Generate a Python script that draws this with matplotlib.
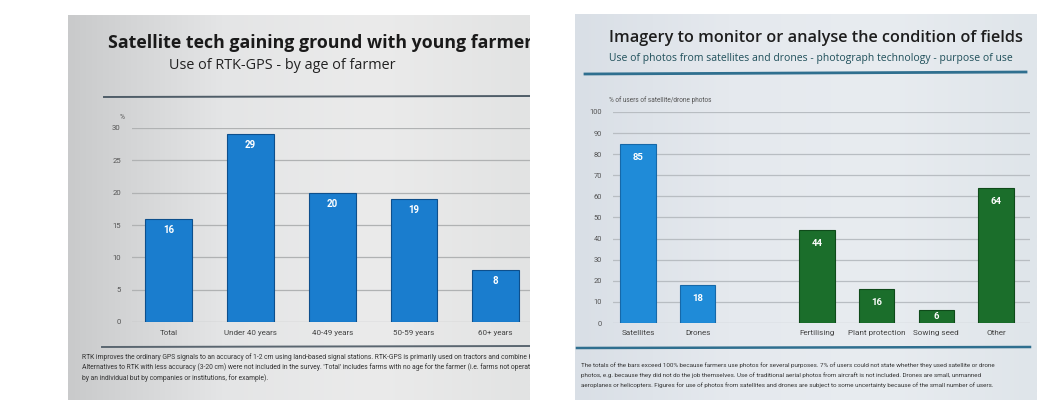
import numpy as np
import matplotlib
matplotlib.use("Agg")
import matplotlib.pyplot as plt
from matplotlib.colors import LinearSegmentedColormap

# ---------------- data ----------------
left_title = "Satellite tech gaining ground with young farmer"
left_subtitle = "Use of RTK-GPS - by age of farmer"
left_categories = ["Total", "Under 40 years", "40-49 years", "50-59 years", "60+ years"]
left_values = [16, 29, 20, 19, 8]
left_yticks = [0, 5, 10, 15, 20, 25, 30]
left_note = ["RTK improves the ordinary GPS signals to an accuracy of 1-2 cm using land-based signal stations. RTK-GPS is primarily used on tractors and combine harvesters.",
             "Alternatives to RTK with less accuracy (3-20 cm) were not included in the survey. 'Total' includes farms with no age for the farmer (i.e. farms not operated",
             "by an individual but by companies or institutions, for example)."]

right_title = "Imagery to monitor or analyse the condition of fields"
right_subtitle = "Use of photos from satellites and drones - photograph technology - purpose of use"
right_ylabel = "% of users of satellite/drone photos"
right_categories = ["Satellites", "Drones", "Fertilising", "Plant protection", "Sowing seed", "Other"]
right_positions = [0, 1, 3, 4, 5, 6]
right_values = [85, 18, 44, 16, 6, 64]
right_groups = ["tech", "tech", "use", "use", "use", "use"]
right_yticks = [0, 10, 20, 30, 40, 50, 60, 70, 80, 90, 100]
right_note = ["The totals of the bars exceed 100% because farmers use photos for several purposes. 7% of users could not state whether they used satellite or drone",
              "photos, e.g. because they did not do the job themselves. Use of traditional aerial photos from aircraft is not included. Drones are small, unmanned",
              "aeroplanes or helicopters. Figures for use of photos from satellites and drones are subject to some uncertainty because of the small number of users."]

W, H = 1064, 408
fig = plt.figure(figsize=(W / 100, H / 100), dpi=100)
fig.patch.set_facecolor("white")

NARROW = ["Roboto", "DejaVu Sans"]
SANS = ["Open Sans", "DejaVu Sans"]


def px_rect(x0, y0, x1, y1):
    return [x0 / W, 1 - y1 / H, (x1 - x0) / W, (y1 - y0) / H]


def slide_bg(x0, y0, x1, y1, colors):
    ax = fig.add_axes(px_rect(x0, y0, x1, y1))
    cmap = LinearSegmentedColormap.from_list("g", colors)
    grad = np.linspace(0, 1, 256).reshape(1, -1)
    ax.imshow(grad, aspect="auto", cmap=cmap, extent=[x0, x1, y1, y0])
    ax.set_xlim(x0, x1)
    ax.set_ylim(y1, y0)
    ax.axis("off")
    return ax


# ---------- left slide ----------
bgL = slide_bg(68, 15, 530, 400, ["#c9cacb", "#e4e5e6", "#ebebeb", "#e2e3e3"])
bgL.text(108, 43, left_title, fontsize=12.8, fontweight="bold", family=SANS,
         color="#1a1a1a", va="center", ha="left", clip_on=True)
bgL.text(282, 65, left_subtitle, fontsize=10.4, family=SANS,
         color="#222222", va="center", ha="center", clip_on=True)
bgL.plot([104, 530], [97, 96], color="#4f5d68", lw=1.4, clip_on=True)
bgL.plot([102, 530], [347, 346], color="#5a6670", lw=1.4, clip_on=True)
bgL.text(120, 117, "%", fontsize=4.8, family=NARROW, color="#555555", va="center", ha="left")
for i, line in enumerate(left_note):
    bgL.text(82, 357 + i * 10.5, line, fontsize=4.9, family=NARROW, color="#333333",
             va="center", ha="left", clip_on=True)

axL = fig.add_axes(px_rect(132, 128, 530, 322))
axL.set_facecolor("none")
xL = np.arange(len(left_values))
axL.bar(xL, left_values, width=0.57, color="#1a7dce", edgecolor="#0d4f8c", linewidth=0.8, zorder=3)
for x, v in zip(xL, left_values):
    axL.text(x, v - 1.7, str(v), ha="center", va="center", color="white",
             fontsize=7, fontweight="bold", family=NARROW, zorder=4)
axL.set_xlim(-0.45, 4.42)
axL.set_ylim(0, 30)
axL.set_yticks(left_yticks)
axL.set_yticklabels([str(t) for t in left_yticks], fontsize=5.6, color="#555555", family=NARROW)
axL.set_xticks(xL)
axL.set_xticklabels(left_categories, fontsize=5.8, color="#444444", family=NARROW)
axL.tick_params(length=0, pad=8)
axL.tick_params(axis="x", pad=6)
axL.grid(axis="y", color="#b0b2b3", lw=0.9, zorder=0)
for s in axL.spines.values():
    s.set_visible(False)

# ---------- right slide ----------
bgR = slide_bg(575, 14, 1037, 400, ["#d9dfe6", "#e5e9ee", "#e8ecf0", "#dfe5ea"])
bgR.text(609, 38, right_title, fontsize=11.7, fontweight="semibold", family=SANS,
         color="#1e1e1e", va="center", ha="left", clip_on=True)
bgR.text(609, 59, right_subtitle, fontsize=7.45, family=SANS,
         color="#1f4f5a", va="center", ha="left", clip_on=True)
bgR.plot([585, 1026], [74, 72], color="#2f6f8f", lw=2.0, clip_on=True)
bgR.plot([577, 1030], [348, 347], color="#2f6f8f", lw=1.8, clip_on=True)
bgR.text(609, 100, right_ylabel, fontsize=4.7, family=NARROW, color="#555555", va="center", ha="left")
for i, line in enumerate(right_note):
    bgR.text(581, 365 + i * 10, line, fontsize=4.5, family=NARROW, color="#333333",
             va="center", ha="left", clip_on=True)

axR = fig.add_axes(px_rect(613, 112, 1030, 323))
axR.set_facecolor("none")
group_colors = {"tech": "#1f8bd8", "use": "#1b6e2b"}
group_edges = {"tech": "#1668a8", "use": "#0f4a1a"}
axR.bar(right_positions, right_values, width=0.59,
        color=[group_colors[g] for g in right_groups],
        edgecolor=[group_edges[g] for g in right_groups], linewidth=0.8, zorder=3)
for x, v in zip(right_positions, right_values):
    ylab = v - 6.5 if v > 12 else v / 2
    axR.text(x, ylab, str(v), ha="center", va="center", color="white",
             fontsize=6.8, fontweight="bold", family=NARROW, zorder=4)
axR.set_xlim(-0.42, 6.57)
axR.set_ylim(0, 100)
axR.set_yticks(right_yticks)
axR.set_yticklabels([str(t) for t in right_yticks], fontsize=5.4, color="#555555", family=NARROW)
axR.set_xticks(right_positions)
axR.set_xticklabels(right_categories, fontsize=5.9, color="#444444", family=NARROW)
axR.tick_params(length=0, pad=8)
axR.tick_params(axis="x", pad=5)
axR.grid(axis="y", color="#b8bdc2", lw=0.9, zorder=0)
for s in axR.spines.values():
    s.set_visible(False)

fig.savefig("out.png", dpi=100, facecolor="white")
